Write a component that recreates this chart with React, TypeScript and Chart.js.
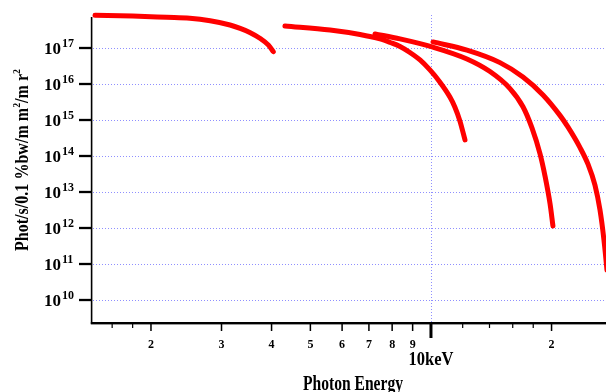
import React, { useEffect, useRef } from 'react';
import { Chart, registerables } from 'chart.js';

Chart.register(...registerables);

const W = 606;
const H = 392;

// ---- data (photon energy in keV, flux) ----
const curve1X = [1.45, 1.8, 2.19, 2.5, 2.81, 3.15, 3.34, 3.53, 3.74, 3.93, 4.04];
const curve1Y = [8.1e17, 7.7e17, 7.1e17, 6.7e17, 5.7e17, 4.35e17, 3.5e17, 2.7e17, 1.86e17, 1.2e17, 7.9e16];

const curve2X = [4.32, 5.6, 6.65, 7.46, 7.91, 8.37, 8.86, 9.39, 9.94, 10.52, 11.15, 11.47, 11.81, 12.16];
const curve2Y = [4.1e17, 3.16e17, 2.37e17, 1.78e17, 1.42e17, 1.1e17, 7.5e16, 4.64e16, 2.45e16, 1.14e16, 4.35e15, 2.3e15, 9.4e14, 2.8e14];

const curve3X = [7.25, 8.37, 10.12, 12.3, 14.04, 15.75, 16.97, 17.87, 18.72, 19.26, 19.83, 20.16];
const curve3Y = [2.45e17, 1.78e17, 1.05e17, 4.94e16, 2.21e16, 7.45e15, 2.33e15, 6.0e14, 1.14e14, 2.78e13, 4.64e12, 1.14e12];

const curve4X = [10.12, 12.3, 14.87, 16.97, 19.04, 20.99, 21.97, 23.54, 24.66, 25.67, 26.42, 27.03, 27.5, 27.98];
const curve4Y = [1.47e17, 8.69e16, 3.91e16, 1.56e16, 4.95e15, 1.34e15, 6.39e14, 1.73e14, 5.91e13, 1.55e13, 3.16e12, 4.64e11, 6.8e10, 7.3e9];

// ---- axes ----
const X_MIN = 1.425;
const X_MAX = 27.35;
const Y_MIN = 2.29e9;
const Y_MAX = 7.24e17;

const yTickExponents = [10, 11, 12, 13, 14, 15, 16, 17];
const xMajorTicks = [2, 3, 4, 5, 6, 7, 8, 9, 20];
const xMajorLabels = ['2', '3', '4', '5', '6', '7', '8', '9', '2'];
const xMinorTicks = [1.6, 1.8, 12, 14, 16, 18];
const xDecadeTick = 10;
const xDecadeLabel = '10keV';
const xTitle = 'Photon Energy';
const yTitleParts: [string, boolean][] = [
  ['Phot/s/0.1 %bw/m m', false],
  ['2', true],
  ['/m r', false],
  ['2', true],
];

const FONT = '"Liberation Serif", "Times New Roman", serif';
const GRID_COLOR = '#8f8fff';

function toPoints(xs: number[], ys: number[]) {
  return xs.map((x, i) => ({ x, y: ys[i] }));
}

const axesPlugin = {
  id: 'customAxes',
  beforeDatasetsDraw(chart: any) {
    const { ctx, chartArea: a, scales } = chart;
    const x = scales.x;
    const y = scales.y;
    ctx.save();
    ctx.strokeStyle = GRID_COLOR;
    ctx.lineWidth = 1;
    ctx.setLineDash([1, 2]);
    for (const e of yTickExponents) {
      const py = Math.round(y.getPixelForValue(Math.pow(10, e))) + 0.5;
      ctx.beginPath();
      ctx.moveTo(a.left + 1, py);
      ctx.lineTo(a.right, py);
      ctx.stroke();
    }
    const px = Math.round(x.getPixelForValue(xDecadeTick)) + 0.5;
    ctx.beginPath();
    ctx.moveTo(px, a.top - 2);
    ctx.lineTo(px, a.bottom);
    ctx.stroke();
    ctx.restore();
  },
  afterDraw(chart: any) {
    const { ctx, chartArea: a, scales } = chart;
    const x = scales.x;
    const y = scales.y;
    ctx.save();
    ctx.setLineDash([]);
    ctx.fillStyle = '#000';

    // axis lines
    ctx.fillRect(a.left - 1.2, a.top, 1.6, a.bottom - a.top + 1);
    ctx.fillRect(a.left - 1.2, a.bottom - 1, a.right - a.left + 2, 2.4);

    // y ticks + labels
    for (const e of yTickExponents) {
      const py = y.getPixelForValue(Math.pow(10, e));
      ctx.fillRect(a.left - 13, py - 1.1, 13, 2.3);
      ctx.textAlign = 'left';
      ctx.textBaseline = 'alphabetic';
      ctx.font = `bold 17px ${FONT}`;
      ctx.fillText('10', 44, py + 6);
      const w = ctx.measureText('10').width;
      ctx.font = `bold 12px ${FONT}`;
      ctx.fillText(String(e), 44 + w + 1, py - 1);
    }

    // x ticks
    const base = a.bottom + 1;
    for (const t of xMinorTicks) {
      const px = x.getPixelForValue(t);
      ctx.fillRect(px - 0.6, base, 1.2, 4);
    }
    ctx.textAlign = 'center';
    ctx.textBaseline = 'alphabetic';
    ctx.font = `bold 12px ${FONT}`;
    xMajorTicks.forEach((t, i) => {
      const px = x.getPixelForValue(t);
      ctx.fillRect(px - 0.75, base, 1.5, 7);
      ctx.fillText(xMajorLabels[i], px, 348);
    });
    const pd = x.getPixelForValue(xDecadeTick);
    ctx.fillRect(pd - 1.5, base, 3, 14);
    ctx.save();
    ctx.font = `bold 18px ${FONT}`;
    ctx.translate(pd, 365);
    {
      const nat = ctx.measureText(xDecadeLabel).width;
      ctx.scale(45 / nat, 1);
    }
    ctx.fillText(xDecadeLabel, 0, 0);
    ctx.restore();

    // x title
    ctx.save();
    ctx.font = `bold 20px ${FONT}`;
    ctx.translate(353, 390);
    {
      const nat = ctx.measureText(xTitle).width;
      ctx.scale(100 / nat, 1);
    }
    ctx.textAlign = 'center';
    ctx.fillText(xTitle, 0, 0);
    ctx.restore();

    // y title (rotated)
    ctx.save();
    ctx.translate(28, 160);
    ctx.rotate(-Math.PI / 2);
    const mainFont = `bold 18px ${FONT}`;
    const supFont = `bold 11px ${FONT}`;
    let total = 0;
    const widths: number[] = [];
    for (const [t, sup] of yTitleParts) {
      ctx.font = sup ? supFont : mainFont;
      const w = ctx.measureText(t).width;
      widths.push(w);
      total += w;
    }
    const target = 182;
    ctx.scale(target / total, 1);
    let cx = -total / 2;
    ctx.textAlign = 'left';
    yTitleParts.forEach(([t, sup], i) => {
      ctx.font = sup ? supFont : mainFont;
      ctx.fillText(t, cx, sup ? -8 : 0);
      cx += widths[i];
    });
    ctx.restore();

    ctx.restore();
  },
};

export default function App() {
  const ref = useRef<HTMLCanvasElement | null>(null);

  useEffect(() => {
    if (!ref.current) return;
    const mk = (xs: number[], ys: number[], label: string) => ({
      label,
      data: toPoints(xs, ys),
      borderColor: '#ff0000',
      backgroundColor: '#ff0000',
      borderWidth: 5,
      pointRadius: 0,
      fill: false,
      cubicInterpolationMode: 'monotone' as const,
      borderCapStyle: 'round' as const,
      borderJoinStyle: 'round' as const,
      clip: { left: 4, top: 10, right: 0, bottom: 0 },
    });
    const chart = new Chart(ref.current, {
      type: 'line',
      data: {
        datasets: [
          mk(curve1X, curve1Y, 'c1'),
          mk(curve2X, curve2Y, 'c2'),
          mk(curve3X, curve3Y, 'c3'),
          mk(curve4X, curve4Y, 'c4'),
        ],
      },
      options: {
        animation: false,
        responsive: false,
        devicePixelRatio: 1,
        layout: { padding: { left: 92, top: 17, right: 0, bottom: 69 } },
        plugins: { legend: { display: false }, tooltip: { enabled: false } },
        scales: {
          x: { type: 'logarithmic', min: X_MIN, max: X_MAX, display: false },
          y: { type: 'logarithmic', min: Y_MIN, max: Y_MAX, display: false },
        },
      },
      plugins: [axesPlugin],
    });
    return () => chart.destroy();
  }, []);

  return (
    <div style={{ position: 'absolute', left: 0, top: 0, width: W, height: H, background: '#fff' }}>
      <canvas ref={ref} width={W} height={H} style={{ display: 'block', width: W, height: H }} />
    </div>
  );
}
